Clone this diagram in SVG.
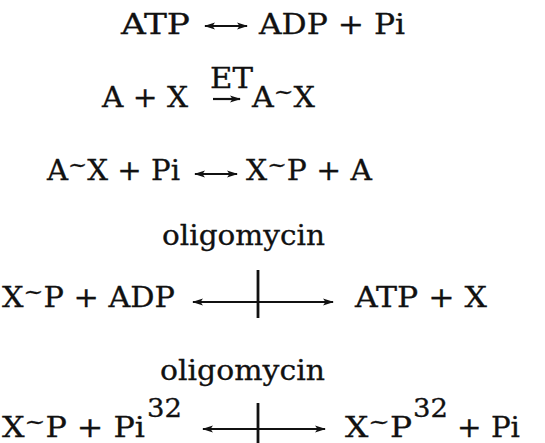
<svg xmlns="http://www.w3.org/2000/svg" width="545" height="443" viewBox="0 0 545 443">
<style>
text{font-family:"DejaVu Serif","Liberation Serif",serif;font-size:28px;fill:#111;stroke:#111;stroke-width:0.3}
.lc{font-size:27px}
.sup{font-size:26px}
.ar{stroke:#111;stroke-width:2.2;fill:none}
.bar{stroke:#111;stroke-width:2.8}
</style>
<defs>
<marker id="ah" markerUnits="userSpaceOnUse" markerWidth="11" markerHeight="8" refX="10" refY="4" orient="auto-start-reverse">
<path d="M0,0.5 L11,4 L0,7.5 L2.5,4 z" fill="#111"/>
</marker>
</defs>
<rect width="545" height="443" fill="#fff"/>
<g id="connectors">
<line class="ar" x1="205" y1="26" x2="247" y2="26" marker-start="url(#ah)" marker-end="url(#ah)"/>
<line class="ar" x1="213" y1="99" x2="240" y2="99" marker-end="url(#ah)"/>
<line class="ar" x1="195" y1="174" x2="237" y2="174" marker-start="url(#ah)" marker-end="url(#ah)"/>
<line class="ar" x1="193" y1="302" x2="333" y2="302" marker-start="url(#ah)" marker-end="url(#ah)"/>
<line class="bar" x1="258" y1="270" x2="258" y2="318"/>
<line class="ar" x1="203" y1="429" x2="325" y2="429" marker-start="url(#ah)" marker-end="url(#ah)"/>
<line class="bar" x1="258" y1="403" x2="258" y2="443"/>
</g>
<g id="eq1">
<text x="121" y="34" textLength="69" lengthAdjust="spacingAndGlyphs">ATP</text>
<text x="259" y="34" textLength="146" lengthAdjust="spacingAndGlyphs">ADP + Pi</text>
</g>
<g id="eq2">
<text x="102" y="107" textLength="86" lengthAdjust="spacingAndGlyphs">A + X</text>
<text x="210" y="88" textLength="43" lengthAdjust="spacingAndGlyphs">ET</text>
<text x="252" y="107" textLength="63" lengthAdjust="spacingAndGlyphs">A<tspan font-size="22" dy="-8">~</tspan><tspan dy="8">X</tspan></text>
</g>
<g id="eq3">
<text x="47" y="180" textLength="133" lengthAdjust="spacingAndGlyphs">A<tspan font-size="22" dy="-8">~</tspan><tspan dy="8">X + Pi</tspan></text>
<text x="246" y="180" textLength="126" lengthAdjust="spacingAndGlyphs">X<tspan font-size="22" dy="-8">~</tspan><tspan dy="8">P + A</tspan></text>
</g>
<g id="eq4">
<text class="lc" x="162" y="245" textLength="163" lengthAdjust="spacingAndGlyphs">oligomycin</text>
<text x="2" y="307" textLength="173" lengthAdjust="spacingAndGlyphs">X<tspan font-size="22" dy="-8">~</tspan><tspan dy="8">P + ADP</tspan></text>
<text x="355" y="307" textLength="132" lengthAdjust="spacingAndGlyphs">ATP + X</text>
</g>
<g id="eq5">
<text class="lc" x="160" y="380" textLength="165" lengthAdjust="spacingAndGlyphs">oligomycin</text>
<text x="2" y="437" textLength="143" lengthAdjust="spacingAndGlyphs">X<tspan font-size="22" dy="-8">~</tspan><tspan dy="8">P + Pi</tspan></text>
<text class="sup" x="147" y="417" textLength="35" lengthAdjust="spacingAndGlyphs">32</text>
<text x="345" y="437" textLength="67" lengthAdjust="spacingAndGlyphs">X<tspan font-size="22" dy="-8">~</tspan><tspan dy="8">P</tspan></text>
<text class="sup" x="413" y="417" textLength="35" lengthAdjust="spacingAndGlyphs">32</text>
<text x="457" y="437" textLength="63" lengthAdjust="spacingAndGlyphs">+ Pi</text>
</g>
</svg>
